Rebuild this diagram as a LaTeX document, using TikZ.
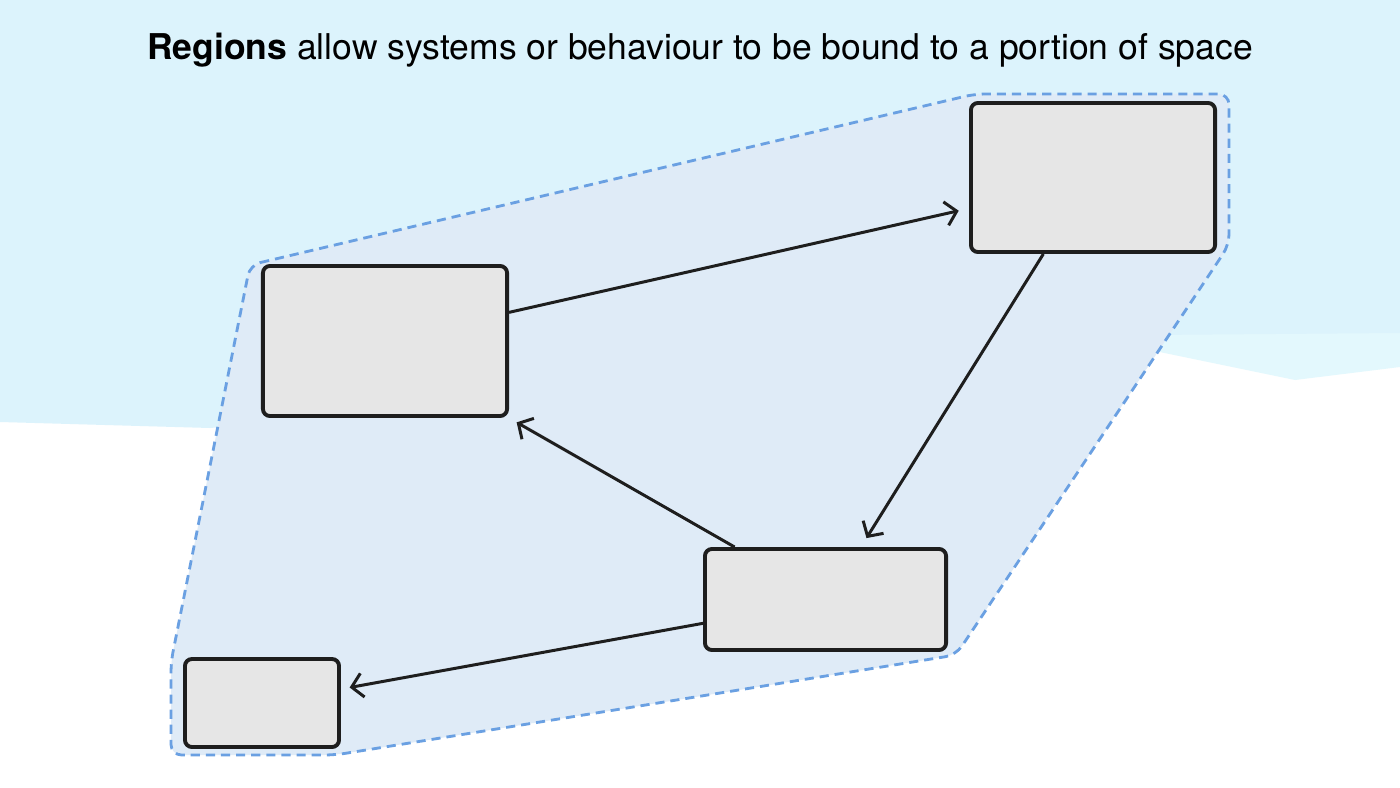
\documentclass[tikz,border=0pt]{standalone}
\usepackage{fontspec}
\setmainfont{TeX Gyre Heros}
\usetikzlibrary{arrows.meta}

\definecolor{sky}{HTML}{DCF3FC}
\definecolor{skylight}{HTML}{E3F8FD}
\definecolor{regionfill}{HTML}{DFEBF7}
\definecolor{regionline}{HTML}{6AA0E2}
\definecolor{boxfill}{HTML}{E6E6E6}
\definecolor{boxline}{HTML}{1E1E1E}

\begin{document}
\begin{tikzpicture}[
x=0.01cm, y=-0.01cm,
box/.style={rectangle, rounded corners=2pt, draw=boxline, fill=boxfill, line width=1.1pt, inner sep=0pt},
line/.style={draw=boxline, line width=0.85pt, -{Straight Barb[length=1.1mm, width=2.4mm]}},
region/.style={draw=regionline, fill=regionfill, line width=0.8pt, dash pattern=on 2.6pt off 1.7pt, rounded corners=3pt}
]

% background
\useasboundingbox (0,0) rectangle (1400,788);
\fill[white] (0,0) rectangle (1400,788);
\fill[skylight] (1150,330) -- (1400,330) -- (1400,367) -- (1295,380) -- (1150,350) -- cycle;
\fill[sky] (0,0) -- (1400,0) -- (1400,333) -- (1150,335) -- (1150,350) -- (210,428) -- (0,422) -- cycle;

\node[anchor=base] (title) at (700,60) {\fontsize{10.1}{12}\selectfont\textbf{Regions} allow systems or behaviour to be bound to a portion of space};

% region
\draw[region] (250,265) -- (975,94) -- (1229,94) -- (1229,245) -- (956,655) -- (335,755) -- (171,755) -- (171,662) -- cycle;

\node[box, minimum width=2.44cm, minimum height=1.50cm] (sysA) at (385,341) {};
\node[box, minimum width=2.44cm, minimum height=1.49cm] (sysB) at (1093,177.5) {};
\node[box, minimum width=2.41cm, minimum height=1.01cm] (sysC) at (825.5,599.5) {};
\node[box, minimum width=1.54cm, minimum height=0.88cm] (sysD) at (262,703) {};

\draw[line, shorten >=3pt] (sysA.13) -- (sysB.194);
\draw[line, shorten >=3pt] (sysB.237) -- (sysC.56);
\draw[line, shorten >=2.5pt] (sysC.150) -- (sysA.south east);
\draw[line, shorten >=2.5pt] (sysC.191) -- (sysD.10);

\end{tikzpicture}
\end{document}
